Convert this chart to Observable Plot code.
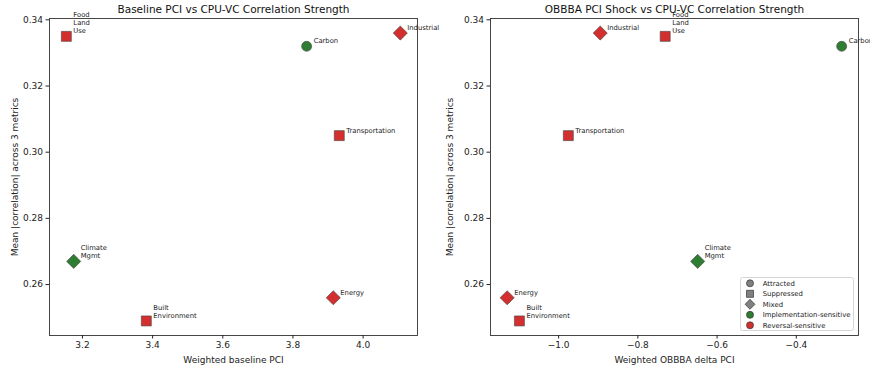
<!DOCTYPE html>
<html><head><meta charset="utf-8">
<script src="https://cdn.jsdelivr.net/npm/d3@7"></script>
<script src="https://cdn.jsdelivr.net/npm/@observablehq/plot@0.6"></script>
<style>
html,body{margin:0;padding:0;background:#fff;overflow:hidden;}
#wrap{position:relative;width:870px;height:368px;font-family:"DejaVu Sans",sans-serif;}
#wrap svg{position:absolute;top:0;overflow:visible;}
</style></head><body>
<div id="wrap"></div>
<script>
const categories = ["Carbon","Industrial","Food\nLand\nUse","Transportation","Climate\nMgmt","Energy","Built\nEnvironment"];
const baselinePCI = [3.839, 4.106, 3.154, 3.932, 3.175, 3.915, 3.382];
const deltaPCI = [-0.2855, -0.895, -0.731, -0.9755, -0.649, -1.130, -1.099];
const meanCorr = [0.332, 0.336, 0.335, 0.305, 0.267, 0.256, 0.249];
const shapes = ["Attracted","Mixed","Suppressed","Suppressed","Mixed","Mixed","Suppressed"];
const groups = ["Implementation-sensitive","Reversal-sensitive","Reversal-sensitive","Reversal-sensitive","Implementation-sensitive","Reversal-sensitive","Reversal-sensitive"];
const yTicks = [0.26, 0.28, 0.30, 0.32, 0.34];
const xTicksLeft = [3.2, 3.4, 3.6, 3.8, 4.0];
const xTicksRight = [-1.0, -0.8, -0.6, -0.4];
const legendShapes = ["Attracted","Suppressed","Mixed"];
const legendGroups = ["Implementation-sensitive","Reversal-sensitive"];

const groupColor = {"Implementation-sensitive":"#2e7d32","Reversal-sensitive":"#d32f2f"};
const symCircle = {draw(ctx, size){const r=Math.sqrt(size)/2; ctx.moveTo(r,0); ctx.arc(0,0,r,0,2*Math.PI);}};
const symSquare = {draw(ctx, size){const s=Math.sqrt(size); ctx.rect(-s/2,-s/2,s,s);}};
const symDiamond = {draw(ctx, size){const h=Math.sqrt(size)/Math.SQRT2; ctx.moveTo(0,-h); ctx.lineTo(h,0); ctx.lineTo(0,h); ctx.lineTo(-h,0); ctx.closePath();}};
const shapeSym = {"Attracted":symCircle,"Suppressed":symSquare,"Mixed":symDiamond};

const rows = categories.map((c,i)=>({label:c, base:baselinePCI[i], delta:deltaPCI[i], corr:meanCorr[i], shape:shapes[i], group:groups[i]}));
const R = Math.sqrt(100/Math.PI);

function panel(xKey, xDomain, xTicks, xLabel, title, mLeft, mRight){
  const dots = ["Attracted","Suppressed","Mixed"].map(s => Plot.dot(rows.filter(d=>d.shape===s), {
    x:xKey, y:"corr", r:R, symbol: shapeSym[s], fill: d=>groupColor[d.group], stroke:"#444", strokeWidth:0.6
  }));
  return Plot.plot({
    width:435, height:368, marginLeft:mLeft, marginRight:mRight, marginTop:18, marginBottom:33,
    style:{fontFamily:"DejaVu Sans, sans-serif", fontSize:"9px", color:"#222", background:"transparent", overflow:"visible"},
    x:{domain:xDomain}, y:{domain:[0.2446,0.3404]},
    marks:[
      Plot.frame({stroke:"#333", strokeWidth:0.9}),
      Plot.axisX({ticks:xTicks, tickFormat:d3.format(".1f"), tickSize:3.5, tickPadding:3, fontSize:9,
        label:xLabel, labelAnchor:"center", labelArrow:"none", labelOffset:27}),
      Plot.axisY({ticks:yTicks, tickFormat:d3.format(".2f"), tickSize:3.5, tickPadding:3, fontSize:9,
        label:"Mean |correlation| across 3 metrics", labelAnchor:"center", labelArrow:"none", labelOffset:mLeft-11}),
      ...dots,
      Plot.text(rows, {x:xKey, y:"corr", text:"label", dx:7, dy:-3, textAnchor:"start", lineAnchor:"bottom", fontSize:6.8, lineHeight:1.18, fill:"#222"}),
      Plot.text([title], {frameAnchor:"top", dy:-9, lineAnchor:"middle", fontSize:10.5, fill:"#111"})
    ]
  });
}

const wrap = document.getElementById("wrap");
const left = panel("base", [3.106, 4.155], xTicksLeft, "Weighted baseline PCI", "Baseline PCI vs CPU-VC Correlation Strength", 49, 18);
left.style.left = "0px";
wrap.appendChild(left);
const right = panel("delta", [-1.172, -0.243], xTicksRight, "Weighted OBBBA delta PCI", "OBBBA PCI Shock vs CPU-VC Correlation Strength", 55, 12);
right.style.left = "435px";
wrap.appendChild(right);

// legend
const leg = d3.select(wrap).append("svg").attr("width",115).attr("height",55)
  .style("left","740px").style("top","277px").style("position","absolute");
leg.append("rect").attr("x",0.5).attr("y",0.5).attr("width",113).attr("height",53).attr("rx",2)
  .attr("fill","#fff").attr("fill-opacity",0.85).attr("stroke","#ccc").attr("stroke-width",0.8);
const items = legendShapes.map(s=>({name:s, sym:shapeSym[s], fill:"#808080"}))
  .concat(legendGroups.map(g=>({name:g, sym:symCircle, fill:groupColor[g]})));
items.forEach((it,i)=>{
  const y = 6.3 + i*10.5;
  leg.append("path").attr("d", d3.symbol(it.sym, 49)()).attr("transform",`translate(10,${y})`)
    .attr("fill",it.fill).attr("stroke","#333").attr("stroke-width",0.7);
  leg.append("text").attr("x",22.7).attr("y",y).attr("dy","0.35em").attr("font-size",6.9)
    .attr("font-family","DejaVu Sans, sans-serif").attr("fill","#222").text(it.name);
});
</script>
</body></html>
